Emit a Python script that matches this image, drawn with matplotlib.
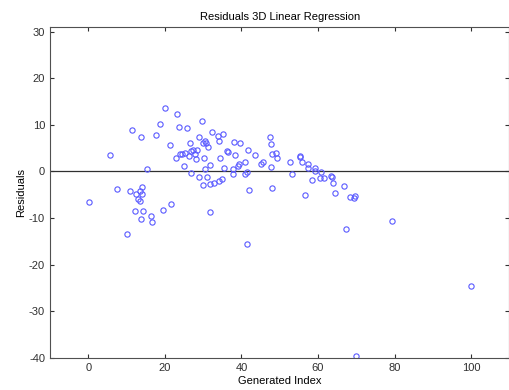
import matplotlib
matplotlib.use('Agg')
import matplotlib.pyplot as plt

plt.rcParams['font.family'] = ['Liberation Sans', 'DejaVu Sans']
plt.rcParams['axes.unicode_minus'] = False

# residual samples: (generated index, residual)
idx = [0.1, 5.6, 7.6, 10.2, 10.9, 11.4, 12.1, 12.5, 13.1, 13.4, 13.5, 13.8, 13.8, 14.0,
       14.1, 14.4, 15.3, 16.3, 16.7, 17.7, 18.8, 19.6, 20.0, 21.4, 21.5, 22.9, 23.1, 23.8,
       24.0, 24.5, 25.2, 25.0, 25.9, 26.4, 26.5, 26.9, 26.9, 27.4, 27.9, 28.2, 28.5, 28.8,
       29.0, 29.8, 29.9, 30.0, 30.5, 30.8, 30.3, 30.4, 31.1, 31.3, 31.8, 31.8, 31.8, 32.2,
       32.9, 33.9, 34.1, 34.1, 34.3, 35.0, 35.1, 35.5, 36.3, 36.5, 37.7, 37.8, 38.0, 38.2,
       39.4, 39.2, 39.7, 40.8, 41.0, 41.4, 41.5, 41.8, 42.0, 43.6, 45.2, 45.5, 47.4, 47.7,
       47.7, 48.0, 48.0, 48.9, 49.2, 52.7, 53.2, 55.4, 55.3, 55.8, 56.5, 57.5, 57.3, 58.5,
       59.2, 59.2, 60.9, 60.6, 61.5, 63.4, 63.7, 64.0, 64.4, 66.8, 67.4, 68.4, 69.3, 69.7,
       69.9, 79.4, 100.0]
resid = [-6.6, 3.5, -3.8, -13.5, -4.2, 8.8, -8.4, -4.8, -5.8, -4.1, -6.4, 7.3, -10.1, -4.8,
         -3.4, -8.4, 0.6, -9.6, -10.8, 7.8, 10.1, -8.2, 13.7, 5.6, -6.9, 2.8, 12.4, 9.6,
         3.8, 3.8, 4.0, 1.1, 9.3, 3.4, 6.1, 4.4, -0.3, 4.7, 3.8, 2.6, 4.7, 7.5,
         -1.1, 10.8, -2.8, 6.1, 6.5, 6.1, 2.8, 0.5, -1.1, 5.2, 1.4, -2.7, -8.7, 8.4,
         -2.4, 7.7, 6.6, -2.1, 2.8, -1.7, 8.0, 0.7, 4.4, 4.1, 0.5, -0.5, 6.4, 3.6,
         1.6, 1.1, 6.1, 2.1, -0.5, -0.1, -15.6, 4.7, -3.9, 3.5, 1.6, 2.1, 7.5, 5.8,
         0.9, 3.7, -3.6, 4.0, 2.8, 2.1, -0.5, 3.4, 3.0, 2.1, -5.1, 1.6, 0.8, -1.9,
         0.7, 0.1, -0.1, -1.3, -1.3, -1.0, -1.2, -2.4, -4.6, -3.2, -12.3, -5.4, -5.6, -5.3,
         -39.6, -10.6, -24.5]

fig = plt.figure(figsize=(5.1, 3.9), dpi=100)
ax = fig.add_axes([0.098, 0.082, 0.901, 0.849])

ax.axhline(0, color='#303030', lw=0.9, zorder=1)
ax.plot(idx, resid, 'o', mfc='none', mec='#5a5aff', ms=3.8, mew=0.8, zorder=2)

ax.set_xlim(-10, 110)
ax.set_ylim(-40, 31)
ax.set_xticks(range(0, 101, 20))
ax.set_yticks(range(-40, 31, 10))
ax.tick_params(direction='in', length=3, labelsize=8, colors='#303030',
               top=True, right=True)
for s in ax.spines.values():
    s.set_color('#505050')
    s.set_linewidth(0.8)

ax.set_title('Residuals 3D Linear Regression', fontsize=8, pad=5)
ax.set_xlabel('Generated Index', fontsize=8, labelpad=2)
ax.set_ylabel('Residuals', fontsize=8, labelpad=2)

fig.savefig('out.png', dpi=100)
